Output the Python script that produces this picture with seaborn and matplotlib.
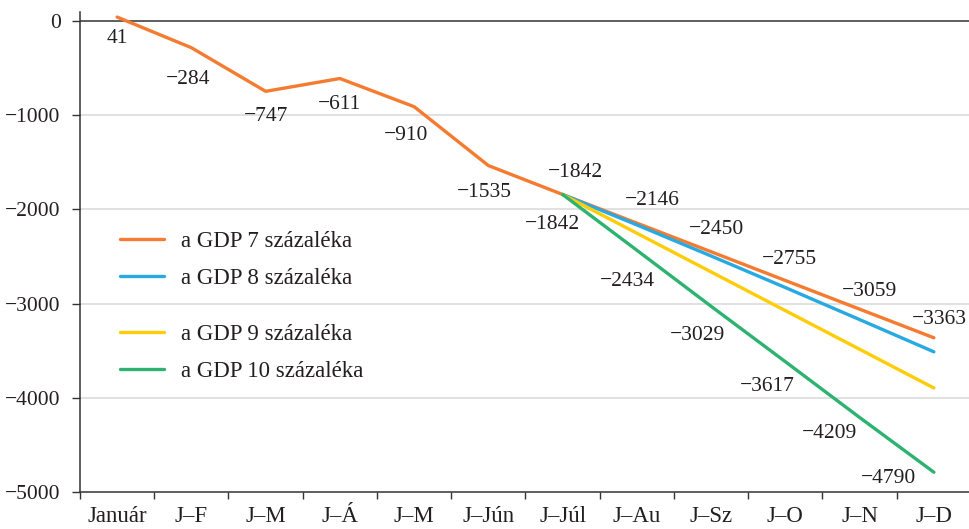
import numpy as np
import pandas as pd
import matplotlib
matplotlib.use("Agg")
import matplotlib.pyplot as plt
from matplotlib.lines import Line2D
from matplotlib.ticker import FixedLocator
import seaborn as sns


months = ["Január", "J–F", "J–M", "J–Á", "J–M", "J–Jún", "J–Júl",
          "J–Au", "J–Sz", "J–O", "J–N", "J–D"]

series_names = ["a GDP 7 százaléka", "a GDP 8 százaléka",
                "a GDP 9 százaléka", "a GDP 10 százaléka"]

gdp7 = [41, -284, -747, -611, -910, -1535, -1842, -2146, -2450, -2755, -3059, -3363]
# the other scenarios start at J-Júl
gdp8 = [-1842, -2165, -2495, -2830, -3170, -3512]
gdp9 = [-1842, -2253, -2664, -3075, -3485, -3896]
gdp10 = [-1842, -2434, -3029, -3617, -4209, -4790]

colors = ["#F47B30", "#27A9E1", "#FFCC08", "#2DB36F"]

# label offsets (pixels) for the printed values
off7 = [(0, -21), (-3, -32), (0, -25), (0, -26), (-8, -29), (-4, -27),
        (13, 22), (15, 23), (5, 22), (4, 21), (10, 18), (6, 18)]
off10 = [(-10, -30), (-9, -31), (-14, -29), (-18, -25), (-30, -16), (-45, -6)]

start = months.index("J–Júl")
rows = []
for name, vals, first in zip(series_names, [gdp7, gdp8, gdp9, gdp10], [0, start, start, start]):
    for i, v in enumerate(vals):
        rows.append({"pos": first + i, "value": v, "series": name})
df = pd.DataFrame(rows)

sns.set_style("white")
plt.rcParams["font.family"] = ["Liberation Serif", "DejaVu Serif"]
plt.rcParams["axes.unicode_minus"] = True

fig = plt.figure(figsize=(9.7, 5.29), dpi=100)
ax = fig.add_axes([80 / 970, 37 / 529, 891 / 970, 480 / 529])

ax.set_ylim(-5000, 95)
ax.set_xlim(-0.5, len(months) - 0.5)

for y in [-1000, -2000, -3000, -4000]:
    ax.axhline(y, color="#d9d9d9", lw=1.1, zorder=0)
ax.axhline(0, color="#333333", lw=1.1, zorder=1)

sns.lineplot(data=df, x="pos", y="value", hue="series", palette=colors,
             hue_order=series_names, lw=2.4, ax=ax, legend=False, zorder=3,
             estimator=None, sort=False)

txt_color = "#231f20"
fs_num = 15.5
fs_txt = 16.5
for i, v in enumerate(gdp7):
    ax.annotate(str(v).replace("-", "\u2212"), (i, v), xytext=off7[i],
                textcoords="offset pixels", ha="center", va="center",
                fontsize=fs_num, color=txt_color)
for i, v in enumerate(gdp10):
    ax.annotate(str(v).replace("-", "\u2212"), (start + i, v), xytext=off10[i],
                textcoords="offset pixels", ha="center", va="center",
                fontsize=fs_num, color=txt_color)

ax.set_xticks(range(len(months)))
ax.set_xticklabels(months, fontsize=fs_txt, color=txt_color)
ax.xaxis.set_minor_locator(FixedLocator(np.arange(-0.5, len(months), 1.0)))
ax.tick_params(axis="x", which="major", length=0, pad=10)
ax.tick_params(axis="x", which="minor", length=5, width=1, color="#333333", bottom=True)

ax.set_yticks([0, -1000, -2000, -3000, -4000, -5000])
ax.set_yticklabels(["0", "\u22121000", "\u22122000", "\u22123000", "\u22124000", "\u22125000"],
                   fontsize=fs_num, color=txt_color)
ax.tick_params(axis="y", length=6, width=1, color="#333333", pad=8, left=True)

ax.set_xlabel("")
ax.set_ylabel("")
for s in ["top", "right"]:
    ax.spines[s].set_visible(False)
for s in ["left", "bottom"]:
    ax.spines[s].set_color("#333333")
    ax.spines[s].set_linewidth(1.1)

handles = [Line2D([], [], color=c, lw=2.4) for c in colors]
leg_kw = dict(loc="center left", frameon=False, fontsize=fs_txt,
              handlelength=1.9, handletextpad=0.75, labelspacing=0.68,
              borderpad=0, borderaxespad=0, labelcolor=txt_color)
leg1 = ax.legend(handles[:2], series_names[:2], bbox_to_anchor=(0.045, 0.483), **leg_kw)
ax.add_artist(leg1)
ax.legend(handles[2:], series_names[2:], bbox_to_anchor=(0.045, 0.29), **leg_kw)

fig.savefig("out.png", dpi=100)
